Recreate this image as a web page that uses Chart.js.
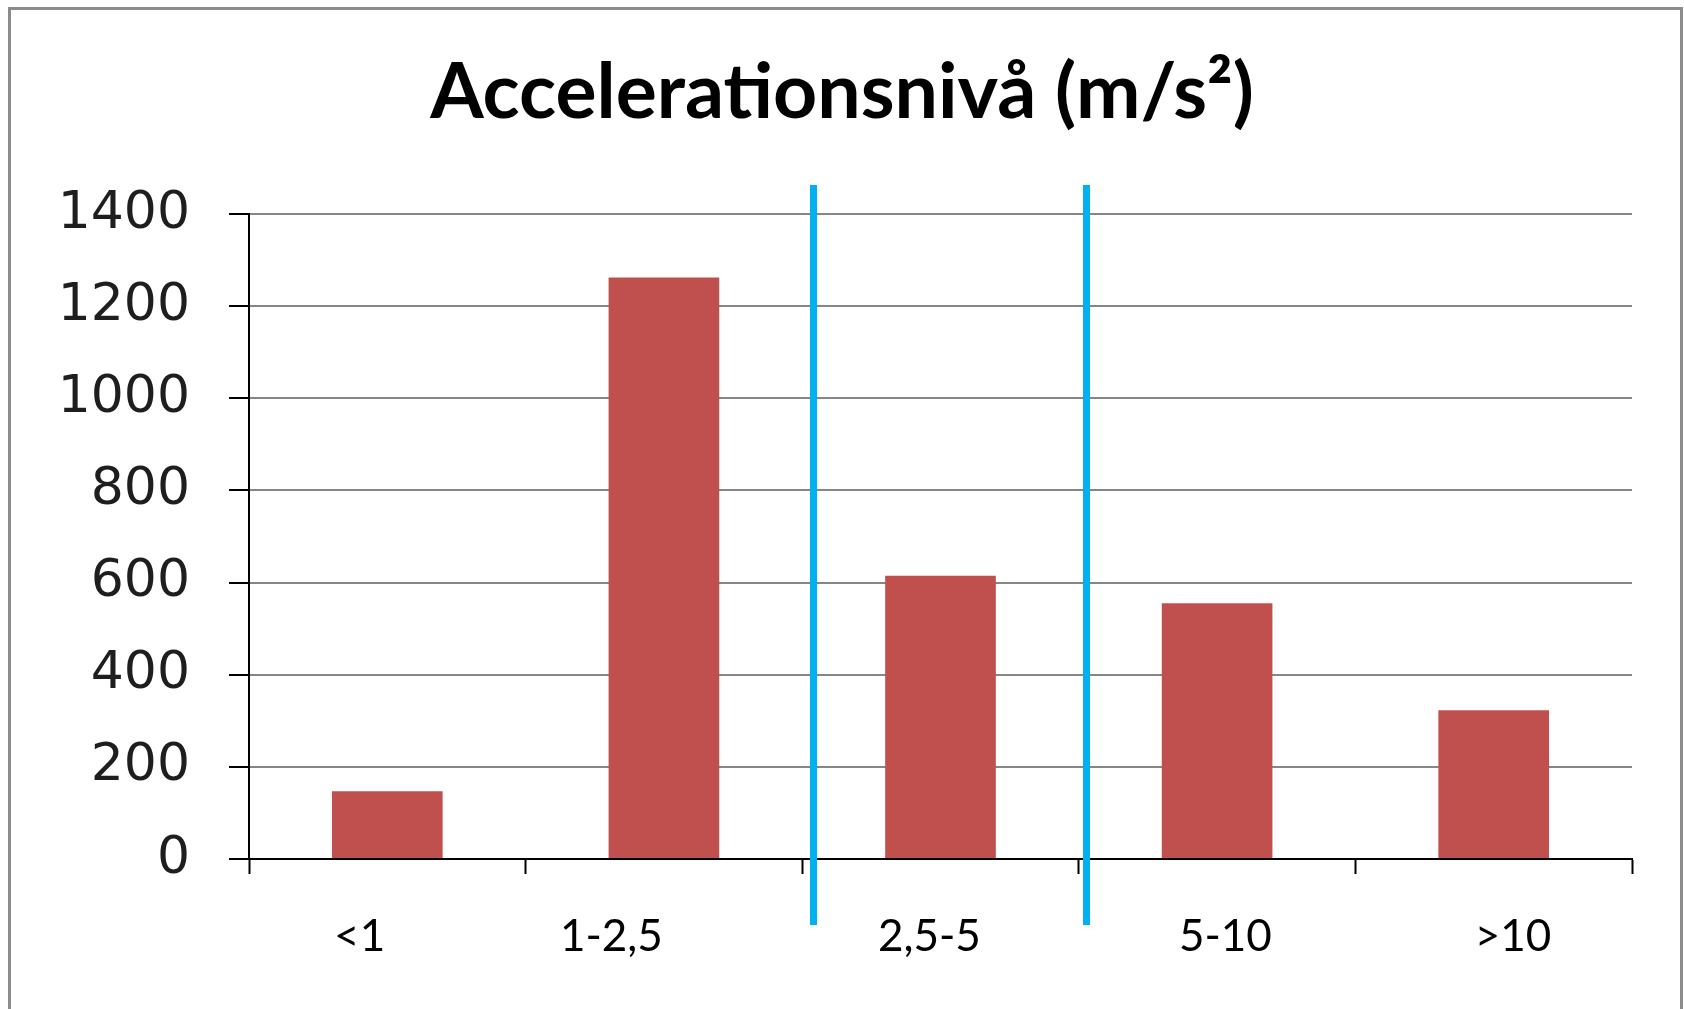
<!DOCTYPE html>
<html lang="sv">
<head>
<meta charset="utf-8">
<title>Accelerationsnivå</title>
<script src="https://cdn.jsdelivr.net/npm/chart.js@4.4.1/dist/chart.umd.min.js"></script>
<style>
  html, body { margin: 0; padding: 0; background: #fff; }
  canvas { display: block; }
</style>
</head>
<body>
<canvas id="chart" width="1684" height="1009"></canvas>
<script>
// Antal mätningar per accelerationsnivå (m/s²)
const categories = ['<1', '1-2,5', '2,5-5', '5-10', '>10'];
const counts = [147, 1262, 615, 555, 323];
const yTicks = [0, 200, 400, 600, 800, 1000, 1200, 1400];

// Category labels are free-standing text boxes, set a little off the category centres
const labelShift = [-0.10, -0.19, -0.04, 0.03, 0.07];
// Blue limit markers: x in category units, vertical span in data units
const markerX = [1.539, 2.526];
const markerSpan = [-143, 1463];

const frame = {
  id: 'frame',
  beforeDraw(chart) {
    const ctx = chart.ctx;
    ctx.save();
    ctx.fillStyle = '#ffffff';
    ctx.fillRect(0, 0, chart.width, chart.height);
    ctx.strokeStyle = '#8c8c8c';
    ctx.lineWidth = 3;
    ctx.strokeRect(9.5, 8.5, chart.width - 12, chart.height + 10);
    ctx.restore();
  }
};

const categoryText = {
  id: 'categoryText',
  afterDraw(chart) {
    const ctx = chart.ctx;
    const xs = chart.scales.x;
    ctx.save();
    ctx.font = '44px Lato';
    ctx.fillStyle = '#000000';
    ctx.textAlign = 'center';
    ctx.textBaseline = 'alphabetic';
    categories.forEach((c, i) => {
      ctx.fillText(c, xs.getPixelForValue(i + labelShift[i]), xs.top + 92);
    });
    ctx.restore();
  }
};

const limitMarkers = {
  id: 'limitMarkers',
  afterDraw(chart) {
    const ctx = chart.ctx;
    const xs = chart.scales.x;
    const ys = chart.scales.y;
    ctx.save();
    ctx.strokeStyle = '#00B0F0';
    ctx.lineWidth = 7;
    ctx.lineCap = 'butt';
    markerX.forEach(v => {
      const px = Math.round(xs.getPixelForValue(v)) + 0.5;
      ctx.beginPath();
      ctx.moveTo(px, ys.getPixelForValue(markerSpan[1]));
      ctx.lineTo(px, ys.getPixelForValue(markerSpan[0]));
      ctx.stroke();
    });
    ctx.restore();
  }
};

new Chart(document.getElementById('chart'), {
  type: 'bar',
  data: {
    labels: categories,
    datasets: [{
      data: counts,
      backgroundColor: '#C0504D',
      borderWidth: 0,
      categoryPercentage: 1,
      barPercentage: 0.4
    }]
  },
  options: {
    responsive: false,
    animation: false,
    events: [],
    layout: { padding: { left: 52, right: 52, top: 0, bottom: 0 } },
    plugins: {
      legend: { display: false },
      tooltip: { enabled: false },
      title: {
        display: true,
        text: 'Accelerationsnivå (m/s²)',
        color: '#000000',
        font: { family: 'Lato', size: 77, weight: 'bold', lineHeight: 1.2 },
        padding: { top: 47, bottom: 74.6 }
      }
    },
    scales: {
      x: {
        offset: true,
        grid: {
          offset: true,
          drawOnChartArea: false,
          drawTicks: true,
          tickLength: 15,
          tickWidth: 2,
          tickColor: '#000000'
        },
        border: { display: true, color: '#000000', width: 2 },
        ticks: { display: false },
        afterFit(scale) { scale.height = 150; }
      },
      y: {
        min: 0,
        max: 1400,
        afterBuildTicks(scale) { scale.ticks = yTicks.map(v => ({ value: v })); },
        grid: {
          color: ctx => (ctx.tick && ctx.tick.value === 0 ? '#000000' : '#868686'),
          lineWidth: 2,
          drawTicks: true,
          tickLength: 20,
          tickWidth: 2,
          tickColor: '#000000'
        },
        border: { display: true, color: '#000000', width: 2 },
        ticks: {
          color: '#1e1e1e',
          padding: 39,
          font: { family: 'DejaVu Sans', size: 52 },
          callback: v => String(v)
        },
        afterFit(scale) { scale.width = 197; }
      }
    }
  },
  plugins: [frame, categoryText, limitMarkers]
});
</script>
</body>
</html>
